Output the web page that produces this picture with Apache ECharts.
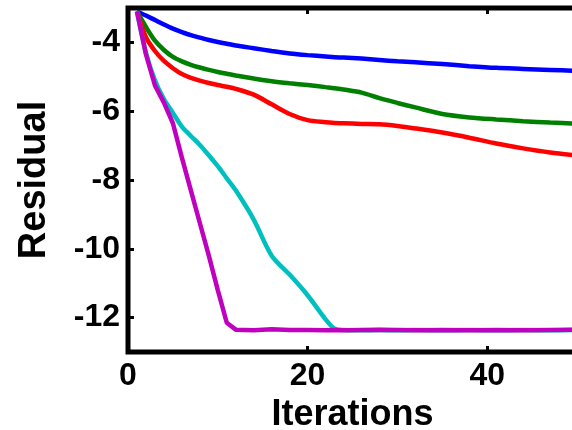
<!DOCTYPE html>
<html>
<head>
<meta charset="utf-8">
<script src="https://cdn.jsdelivr.net/npm/echarts@6/dist/echarts.min.js"></script>
<style>
html,body{margin:0;padding:0;background:#fff;}
#chart{width:572px;height:430px;}
</style>
</head>
<body>
<div id="chart"></div>
<script>
const iterations = [1,2,3,4,5,6,7,8,9,10,11,12,14,16,18,20,22,23,24,26,28,30,32,35,38,41,44,47,50];
const blueValues = [-3.10,-3.22,-3.35,-3.48,-3.60,-3.70,-3.79,-3.86,-3.93,-3.99,-4.04,-4.09,-4.17,-4.25,-4.32,-4.37,-4.41,-4.43,-4.44,-4.47,-4.51,-4.55,-4.58,-4.63,-4.69,-4.74,-4.77,-4.80,-4.83];
const greenValues = [-3.10,-3.55,-3.95,-4.22,-4.42,-4.55,-4.65,-4.73,-4.80,-4.86,-4.91,-4.96,-5.05,-5.13,-5.19,-5.24,-5.30,-5.33,-5.37,-5.46,-5.62,-5.76,-5.89,-6.08,-6.18,-6.24,-6.29,-6.33,-6.36];
const redValues = [-3.10,-3.85,-4.25,-4.54,-4.75,-4.92,-5.03,-5.11,-5.18,-5.24,-5.29,-5.35,-5.52,-5.80,-6.08,-6.26,-6.32,-6.34,-6.35,-6.37,-6.38,-6.43,-6.50,-6.62,-6.77,-6.94,-7.08,-7.20,-7.29];
const cyanValues = [-3.10,-4.30,-5.10,-5.65,-6.05,-6.45,-6.72,-6.98,-7.28,-7.60,-7.95,-8.30,-9.15,-10.20,-10.75,-11.35,-12.05,-12.32,-12.36,-12.37,-12.36,-12.37,-12.36,-12.37,-12.36,-12.37,-12.36,-12.37,-12.36];
const magentaValues = [-3.10,-4.35,-5.25,-5.75,-6.35,-7.35,-8.30,-9.25,-10.20,-11.20,-12.15,-12.35,-12.37,-12.34,-12.36,-12.36,-12.37,-12.36,-12.37,-12.36,-12.35,-12.36,-12.37,-12.36,-12.37,-12.36,-12.37,-12.36,-12.35];
const xTicks = [0, 20, 40];
const yTicks = [-12, -10, -8, -6, -4];

function pairs(vals){ return iterations.map((x,i)=>[x, vals[i]]); }

const chart = echarts.init(document.getElementById('chart'), null, {renderer:'canvas'});
const font = 'Liberation Sans, Arial, Helvetica, sans-serif';
const seriesDefs = [
  {name:'blue', color:'#0000ff', vals:blueValues, smooth:0.3},
  {name:'green', color:'#008000', vals:greenValues, smooth:0.3},
  {name:'red', color:'#ff0000', vals:redValues, smooth:0.3},
  {name:'cyan', color:'#00bfbf', vals:cyanValues, smooth:0.3},
  {name:'magenta', color:'#bf00bf', vals:magentaValues, smooth:false}
];
chart.setOption({
  animation:false,
  backgroundColor:'#fff',
  grid:{left:128, top:8, bottom:78, right:-5, containLabel:false, outerBoundsMode:'none',
    show:true, borderColor:'#000', borderWidth:5, backgroundColor:'transparent'},
  xAxis:[{
    type:'value', min:0, max:50, interval:20,
    name:'Iterations', nameLocation:'middle', nameGap:28,
    nameTextStyle:{fontFamily:font, fontWeight:'bold', fontSize:36, color:'#000'},
    axisLine:{show:false},
    axisTick:{show:true, inside:true, length:6, lineStyle:{color:'#000', width:3},
      customValues:xTicks},
    axisLabel:{fontFamily:font, fontWeight:'bold', fontSize:32, color:'#000', margin:8, customValues:xTicks},
    splitLine:{show:false}
  },{
    type:'value', min:0, max:50, interval:20, position:'top',
    axisLine:{show:false},
    axisTick:{show:true, inside:true, length:6, lineStyle:{color:'#000', width:3}, customValues:xTicks},
    axisLabel:{show:false},
    splitLine:{show:false}
  }],
  yAxis:{
    type:'value', min:-13, max:-3, interval:2,
    name:'Residual', nameLocation:'middle', nameGap:74, nameRotate:90,
    nameTextStyle:{fontFamily:font, fontWeight:'bold', fontSize:38, color:'#000'},
    axisLine:{show:false},
    axisTick:{show:true, inside:true, length:6, lineStyle:{color:'#000', width:3}, customValues:yTicks},
    axisLabel:{fontFamily:font, fontWeight:'bold', fontSize:32, color:'#000', margin:8, customValues:yTicks},
    splitLine:{show:false}
  },
  series: seriesDefs.map(s=>({
    type:'line', name:s.name, data:pairs(s.vals), smooth:s.smooth,
    showSymbol:false, symbol:'none', xAxisIndex:0,
    lineStyle:{color:s.color, width:4.5}, itemStyle:{color:s.color}, z:3
  }))
});
</script>
</body>
</html>
